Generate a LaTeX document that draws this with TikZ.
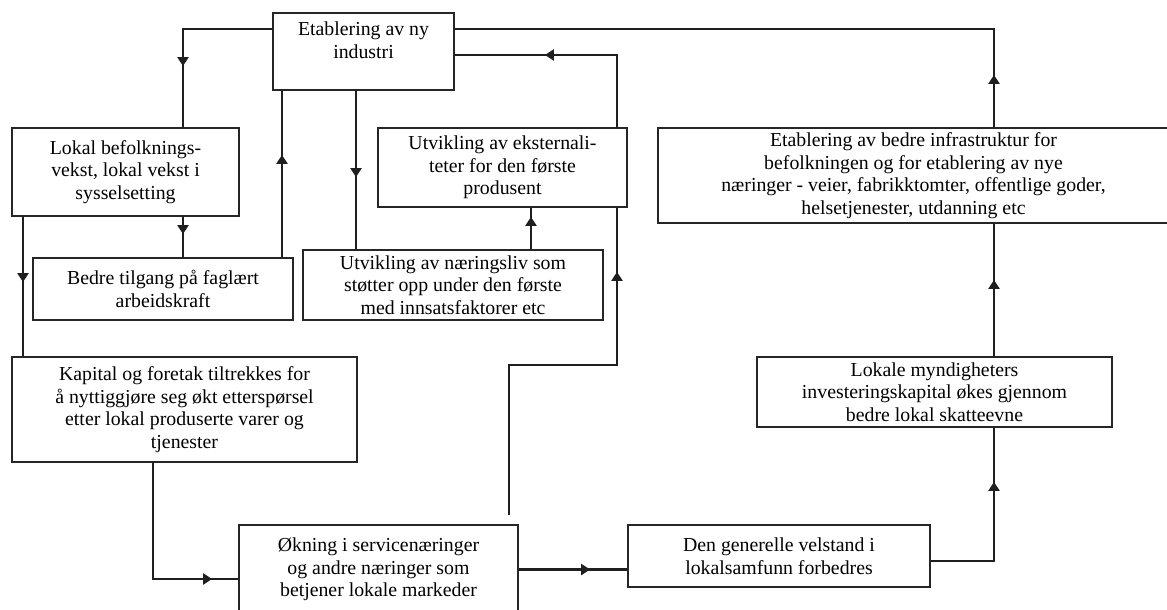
\documentclass[tikz,border=0pt]{standalone}
\usepackage{fontspec}
\setmainfont{Liberation Serif}
\usetikzlibrary{arrows.meta,decorations.markings}
\pgfdeclarelayer{bg}
\pgfsetlayers{bg,main}
\tikzset{
  box/.style={draw=black!85, line width=2.2pt, fill=white, inner sep=0pt, align=center,
    font=\fontsize{19.8}{22.5}\selectfont},
  conn/.style={draw=black!88, line width=2.5pt},
  tri/.tip={Triangle[length=9pt,width=11pt]},
  tipat/.style={postaction={decorate,decoration={markings,mark=at position #1 with {\arrow{tri}}}}}
}
\begin{document}
\begin{tikzpicture}[x=1pt,y=-1pt]
\useasboundingbox (0,0) rectangle (1167,610);
% boxes
\node[box, minimum width=181pt, minimum height=77pt] (A) at (363.5,51.5) {Etablering av ny\\industri\\\mbox{}};
\node[box, minimum width=227pt, minimum height=88pt] (B) at (125.5,172) {Lokal befolknings-\\vekst, lokal vekst i\\sysselsetting};
\node[box, minimum width=260pt, minimum height=62pt] (C) at (163,289) {Bedre tilgang på faglært\\arbeidskraft};
\node[box, minimum width=300pt, minimum height=70pt] (D) at (453,285) {Utvikling av næringsliv som\\støtter opp under den første\\med innsatsfaktorer etc};
\node[box, minimum width=249pt, minimum height=79pt] (E) at (502.5,167.5) {Utvikling av eksternali-\\teter for den første\\produsent};
\node[box, minimum width=511pt, minimum height=95pt] (F) at (913.5,175.5) {Etablering av bedre infrastruktur for\\befolkningen og for etablering av nye\\næringer - veier, fabrikktomter, offentlige goder,\\helsetjenester, utdanning etc};
\node[box, minimum width=355pt, minimum height=70pt] (G) at (934.5,392) {Lokale myndigheters\\investeringskapital økes gjennom\\bedre lokal skatteevne};
\node[box, minimum width=345pt, minimum height=105pt] (K) at (184.5,409.5) {Kapital og foretak tiltrekkes for\\å nyttiggjøre seg økt etterspørsel\\etter lokal produserte varer og\\tjenester};
\node[box, minimum width=279pt, minimum height=89pt] (O) at (378.5,569.5) {Økning i servicenæringer\\og andre næringer som\\betjener lokale markeder};
\node[box, minimum width=302pt, minimum height=62pt] (V) at (779,556) {Den generelle velstand i\\lokalsamfunn forbedres};
% helper coordinates for connector columns
\coordinate (x23) at (23,0);
\coordinate (x153) at (153,0);
\coordinate (x183) at (183,0);
\coordinate (x282) at (282,0);
\coordinate (x356) at (356,0);
\coordinate (x509) at (509,0);
\coordinate (x531) at (531,0);
\coordinate (x994) at (994,0);
\coordinate (bend7) at (617,365);
\begin{pgfonlayer}{bg}
\fill[white] (0,0) rectangle (1167,610);
\draw[conn, tipat=126pt] ([yshift=22.5pt]A.west) -| (B.north -| x183);
\draw[conn, tipat=17pt] (B.south -| x183) -- (C.north -| x183);
\draw[conn, tipat=65pt] (B.south -| x23) -- (K.north -| x23);
\draw[conn, tipat=102pt] (C.north -| x282) -- (A.south -| x282);
\draw[conn, tipat=86pt] (A.south -| x356) -- (D.north -| x356);
\draw[conn, tipat=32pt] (D.north -| x531) -- (E.south -| x531);
\draw[conn, tipat=351pt, tipat=640pt] ([yshift=9pt]O.north -| x509) |- (bend7) |- ([yshift=-3.5pt]A.east);
\draw[conn, tipat=175pt] (K.south -| x153) |- ([yshift=-9.5pt]O.west);
\draw[conn, tipat=71pt] (O.east) -- (O.east -| V.west);
\draw[conn, tipat=142pt] ([yshift=-5pt]V.east) -| (G.south -| x994);
\draw[conn, tipat=76pt] (G.north -| x994) -- (F.south -| x994);
\draw[conn, tipat=52pt] (F.north -| x994) |- ([yshift=22.5pt]A.east);
\end{pgfonlayer}
\end{tikzpicture}
\end{document}
